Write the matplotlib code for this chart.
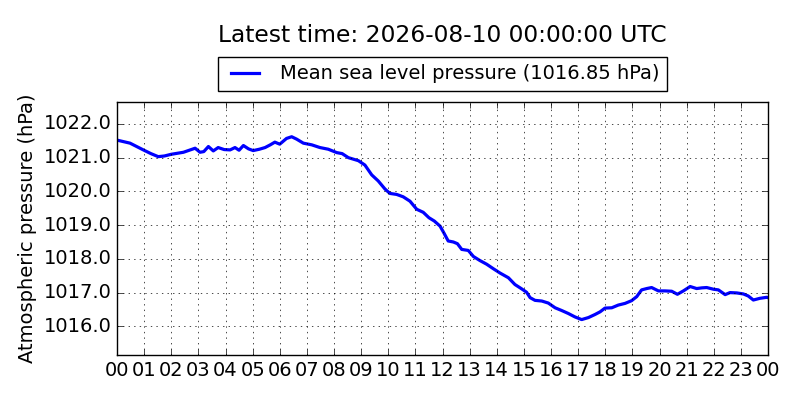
import matplotlib
matplotlib.use("Agg")
import matplotlib.pyplot as plt

# pressure readings (hours since 00 UTC, hPa)
hours = [0.0, 0.48, 0.97, 1.25, 1.52, 1.75, 2.0, 2.45, 2.88, 3.06, 3.2, 3.37,
         3.55, 3.73, 3.95, 4.17, 4.35, 4.5, 4.66, 4.85, 5.02, 5.25, 5.46, 5.65,
         5.82, 6.0, 6.25, 6.44, 6.62, 6.87, 7.18, 7.48, 7.79, 8.1, 8.3, 8.53,
         8.9, 9.14, 9.39, 9.63, 9.88, 10.06, 10.31, 10.55, 10.8, 11.05, 11.29,
         11.5, 11.7, 11.91, 12.03, 12.21, 12.4, 12.55, 12.71, 12.95, 13.14,
         13.38, 13.63, 13.87, 14.12, 14.43, 14.67, 14.92, 15.1, 15.23, 15.41,
         15.66, 15.9, 16.15, 16.39, 16.64, 16.88, 17.13, 17.38, 17.62, 17.81,
         17.99, 18.24, 18.48, 18.73, 18.97, 19.16, 19.34, 19.53, 19.71, 19.96,
         20.2, 20.45, 20.66, 20.88, 21.13, 21.37, 21.56, 21.74, 21.99, 22.17,
         22.42, 22.6, 22.85, 23.09, 23.27, 23.46, 23.7, 23.95, 24.0]
pressure = [1021.52, 1021.43, 1021.23, 1021.12, 1021.03, 1021.05, 1021.1,
            1021.16, 1021.28, 1021.16, 1021.18, 1021.33, 1021.2, 1021.3,
            1021.24, 1021.23, 1021.3, 1021.22, 1021.36, 1021.26, 1021.21,
            1021.25, 1021.3, 1021.38, 1021.46, 1021.4, 1021.57, 1021.62,
            1021.55, 1021.43, 1021.38, 1021.3, 1021.25, 1021.15, 1021.12,
            1021.0, 1020.91, 1020.78, 1020.49, 1020.31, 1020.07, 1019.94,
            1019.91, 1019.84, 1019.71, 1019.47, 1019.38, 1019.22, 1019.12,
            1018.97, 1018.8, 1018.53, 1018.5, 1018.45, 1018.28, 1018.25,
            1018.07, 1017.95, 1017.84, 1017.71, 1017.58, 1017.44, 1017.24,
            1017.11, 1017.01, 1016.85, 1016.77, 1016.75, 1016.69, 1016.55,
            1016.47, 1016.38, 1016.28, 1016.2, 1016.26, 1016.35, 1016.43,
            1016.54, 1016.55, 1016.63, 1016.68, 1016.76, 1016.88, 1017.08,
            1017.12, 1017.15, 1017.05, 1017.05, 1017.04, 1016.95, 1017.05,
            1017.18, 1017.12, 1017.14, 1017.15, 1017.1, 1017.08, 1016.94,
            1017.0, 1016.99, 1016.96, 1016.9, 1016.78, 1016.83, 1016.86,
            1016.85]

xticks = list(range(25))
xlabels = ["%02d" % (h % 24) for h in xticks]
yticks = [1016.0, 1017.0, 1018.0, 1019.0, 1020.0, 1021.0, 1022.0]

plt.style.use("classic")
plt.rcParams["font.size"] = 14

fig = plt.figure(figsize=(8, 4), dpi=100)
ax = fig.add_axes([0.14625, 0.1125, 0.81375, 0.6325])

ax.plot(hours, pressure, color="b", lw=2.3,
        label="Mean sea level pressure (%.2f hPa)" % pressure[-1])

ax.set_xlim(0, 24)
ax.set_ylim(1015.15, 1022.65)
ax.set_xticks(xticks)
ax.set_xticklabels(xlabels)
ax.set_yticks(yticks)
ax.set_yticklabels(["%.1f" % v for v in yticks])
ax.grid(True)
ax.set_ylabel("Atmospheric pressure (hPa)")

ax.legend(loc="lower center", bbox_to_anchor=(0.5, 1.02), fontsize=14,
          borderaxespad=0.3)
ax.set_title("Latest time: 2026-08-10 00:00:00 UTC", pad=43)

fig.savefig("out.png", dpi=100)
